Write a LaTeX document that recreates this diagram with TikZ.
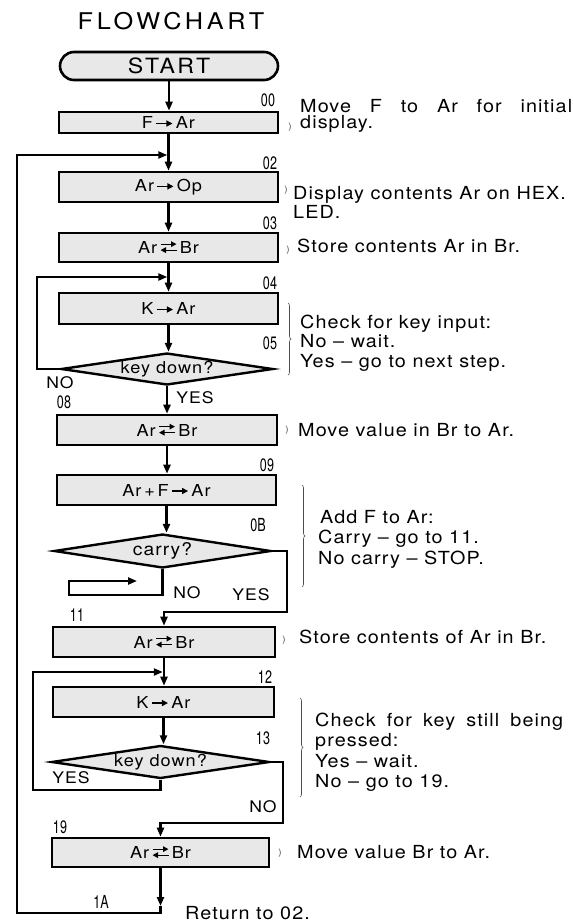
\documentclass[tikz,border=0pt]{standalone}
\usepackage{fontspec}
\setmainfont{TeX Gyre Heros}[FakeStretch=1.1,LetterSpace=6]
\newfontfamily\numfont{TeX Gyre Heros}[FakeStretch=0.7]
\usetikzlibrary{arrows.meta,decorations.pathreplacing,shapes.geometric}
\newcommand\ra{\,\tikz[x=1pt,y=1pt,baseline=-5pt]\draw[line width=1.3,-{Triangle[length=6,width=6]}] (0,0) -- (16,0);\,}
\newcommand\xch{\,\tikz[x=1pt,y=1pt,baseline=-1pt]{\draw[line width=1.2,-{Triangle[length=5.5,width=5.5]}] (0,8.5) -- (16,8.5);\draw[line width=1.2,-{Triangle[length=5.5,width=5.5]}] (16,2.5) -- (0,2.5);}\,}
\tikzset{
  proc/.style={draw, line width=2.6, fill=black!9, inner sep=0, font=\fontsize{16.5}{18}\selectfont},
  dec/.style={draw, diamond, line width=2.4, fill=black!9, inner sep=0, font=\fontsize{16.5}{18}\selectfont},
  flow/.style={line width=2.2, -{Triangle[length=9,width=7]}},
  num/.style={font=\numfont\fontsize{18}{20}\selectfont, inner sep=0},
  yn/.style={font=\fontsize{16}{18}\selectfont, inner sep=0},
  cmt/.style={font=\fontsize{18}{20}\selectfont, inner sep=0, anchor=base west},
  brk/.style={font=\fontsize{9}{10}\selectfont, inner sep=0, text=black!70},
  bracegroup/.style={decorate, decoration={brace, amplitude=3}, line width=0.6, draw=black!70},
}
\begin{document}
\begin{tikzpicture}[x=1pt,y=-1pt]
\path[fill=white] (0,0) rectangle (573,922);
\useasboundingbox (0,0) rectangle (573,922);

% title and terminal
\node[font=\fontsize{23}{25}\selectfont\addfontfeature{LetterSpace=16}, anchor=base, inner sep=0] (title) at (171,29) {FLOWCHART};
\node[draw, rounded corners=14, line width=2.6, fill=black!9, minimum width=218, minimum height=28, inner sep=0,
      font=\fontsize{21}{23}\selectfont\addfontfeature{LetterSpace=12}] (start) at (169,66) {START};

% process boxes
\node[proc, minimum width=219, minimum height=21] (b00) at (168.5,122.5) {F\ra Ar};
\node[proc, minimum width=219, minimum height=30] (b02) at (168.5,187) {Ar\ra Op};
\node[proc, minimum width=219, minimum height=29] (b03) at (168.5,247.5) {Ar\xch Br};
\node[proc, minimum width=219, minimum height=31] (b04) at (168.5,308.5) {K\ra Ar};
\node[dec, minimum width=212, minimum height=32, aspect=6.6] (d05) at (167,369) {key down?};
\node[proc, minimum width=220, minimum height=30] (b08) at (167,430) {Ar\xch Br};
\node[proc, minimum width=219, minimum height=30] (b09) at (166.5,490) {Ar\,+\,F\ra Ar};
\node[dec, minimum width=217, minimum height=34, aspect=6.4, font=\fontsize{17.5}{19}\selectfont] (d0B) at (162.5,551) {carry?};
\node[proc, minimum width=222, minimum height=30] (b11) at (164,642) {Ar\xch Br};
\node[proc, minimum width=221, minimum height=30] (b12) at (163.5,702) {K\ra Ar};
\node[dec, minimum width=218, minimum height=33, aspect=6.6] (d13) at (160.5,762) {key down?};
\node[proc, minimum width=217, minimum height=29] (b19) at (160.5,852.5) {Ar\xch Br};

% junction coordinates
\coordinate (j1) at (168.5,155);
\coordinate (j2) at (168.5,277);
\coordinate (j3) at (164,672);
\coordinate (l1) at (17,913);
\coordinate (l2) at (37,277);
\coordinate (l3) at (33,790);
\coordinate (cy1) at (287,612);
\coordinate (nc1) at (69,595);
\coordinate (nc2) at (69,581);
\coordinate (nc3) at (137,581);
\coordinate (n13) at (283,823);
\coordinate (r1) at (160.5,906);

% main flow
\draw[flow] (start.south) -- (start.south |- b00.north);
\draw[flow] (b00.south) -- (b00.south |- b02.north);
\draw[flow] (b02.south) -- (b02.south |- b03.north);
\draw[flow] (b03.south) -- (b03.south |- b04.north);
\draw[flow] (b04.south) -- (b04.south |- d05.north);
\draw[flow] (d05.south) -- (d05.south |- b08.north);
\draw[flow] (b08.south) -- (b08.south |- b09.north);
\draw[flow] (b09.south) -- (b09.south |- d0B.north);
\draw[flow] (d0B.east) -| (cy1) -- (cy1 -| b11.north) -- (b11.north);
\draw[flow] (d0B.south) |- (nc1) -- (nc2) -- (nc3);
\draw[flow] (b11.south) -- (b11.south |- b12.north);
\draw[flow] (b12.south) -- (b12.south |- d13.north);
\draw[flow] (d13.east) -| (n13) -- (n13 -| b19.north) -- (b19.north);
\draw[flow] (b19.south) -- (r1);

% loops
\draw[flow, shorten >=1.2] (d05.west) -| (l2) -- (j2);
\draw[flow, shorten >=1.2] (d13.south) |- (l3) |- (j3);
\draw[flow, shorten >=1.2] (r1) |- (l1) |- (j1);

% step numbers
\node[num] (n00) at (268,100) {00};
\node[num] (n02) at (270,163) {02};
\node[num] (n03) at (270,223) {03};
\node[num] (n04) at (270,283) {04};
\node[num] (n05) at (270,343) {05};
\node[num] (n08) at (64,402) {08};
\node[num] (n09) at (267,465) {09};
\node[num] (n0B) at (258,525) {0B};
\node[num] (n11) at (77,615) {11};
\node[num] (n12) at (265,677) {12};
\node[num] (n13l) at (263,738) {13};
\node[num] (n19) at (60,827) {19};
\node[num] (n1A) at (101,902) {1A};

% yes / no
\node[yn] (yn1) at (60,383) {NO};
\node[yn] (yn2) at (195,398) {YES};
\node[yn] (yn3) at (187,593) {NO};
\node[yn] (yn4) at (251,595) {YES};
\node[yn] (yn5) at (71,778) {YES};
\node[yn] (yn6) at (263,807) {NO};

% comment brackets
\node[brk] (k1) at (290,127) {)};
\node[brk] (k2) at (286,190) {)};
\node[brk] (k3) at (288,250) {)};
\node[brk] (k5) at (287,430) {)};
\node[brk] (k7) at (284,640) {)};
\node[brk] (k9) at (280,853) {)};
\draw[bracegroup] (288,303) -- (288,375);
\draw[bracegroup] (302,485) -- (302,587);
\draw[bracegroup] (300,698) -- (300,797);

% comments
\node[cmt] (c1a) at (300,112) {\makebox[272pt][s]{Move F to Ar for initial}};
\node[cmt] (c1b) at (300,128.5) {display.};
\node[cmt] (c2a) at (293,199) {Display contents Ar on HEX.};
\node[cmt] (c2b) at (293,218) {LED.};
\node[cmt] (c3) at (297,252.5) {Store contents Ar in Br.};
\node[cmt] (c4a) at (300,328) {Check for key input:};
\node[cmt] (c4b) at (300,347.5) {No -- wait.};
\node[cmt] (c4c) at (300,367) {Yes -- go to next step.};
\node[cmt] (c5) at (298,436.5) {Move value in Br to Ar.};
\node[cmt] (c6a) at (320,523) {Add F to Ar:};
\node[cmt] (c6b) at (318,543.5) {Carry -- go to 11.};
\node[cmt] (c6c) at (318,564) {No carry -- STOP.};
\node[cmt] (c7) at (299,643) {Store contents of Ar in Br.};
\node[cmt] (c8a) at (315,726.5) {\makebox[248pt][s]{Check for key still being}};
\node[cmt] (c8b) at (315,746.5) {pressed:};
\node[cmt] (c8c) at (315,767) {Yes -- wait.};
\node[cmt] (c8d) at (315,787.5) {No -- go to 19.};
\node[cmt] (c9) at (297,858) {Move value Br to Ar.};
\node[cmt] (c10) at (185,919) {Return to 02.};
\end{tikzpicture}
\end{document}
